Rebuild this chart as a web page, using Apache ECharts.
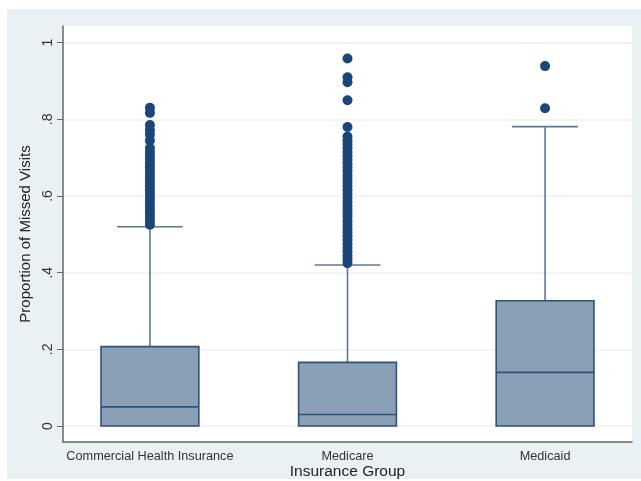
<!DOCTYPE html>
<html>
<head>
<meta charset="utf-8">
<script src="https://cdn.jsdelivr.net/npm/echarts@6/dist/echarts.min.js"></script>
<style>
  html, body { margin: 0; padding: 0; background: #fff; }
  #chart { width: 641px; height: 481px; }
</style>
</head>
<body>
<div id="chart"></div>
<script>
// groups on the x axis (positions 0, 1, 2)
const groups = ["Commercial Health Insurance", "Medicare", "Medicaid"];
const groupPos = [0, 1, 2];

// box summary per group: lower whisker, q1, median, q3, upper whisker
const lowerWhisker = [0, 0, 0];
const q1 = [0, 0, 0];
const median = [0.05, 0.03, 0.14];
const q3 = [0.207, 0.166, 0.327];
const upperWhisker = [0.52, 0.42, 0.781];

// outside values
const commercialOutliers = [
  0.525, 0.535, 0.545, 0.555, 0.565, 0.575, 0.585, 0.595, 0.605, 0.615,
  0.625, 0.635, 0.645, 0.655, 0.665, 0.675, 0.685, 0.695, 0.705, 0.715,
  0.725, 0.745, 0.76, 0.772, 0.785, 0.817, 0.83
];
const medicareOutliers = [
  0.425, 0.435, 0.445, 0.455, 0.465, 0.475, 0.485, 0.495, 0.505, 0.515,
  0.525, 0.535, 0.545, 0.555, 0.565, 0.575, 0.585, 0.595, 0.605, 0.615,
  0.625, 0.635, 0.645, 0.655, 0.665, 0.675, 0.685, 0.695, 0.705, 0.715,
  0.725, 0.735, 0.745, 0.755, 0.78, 0.85, 0.897, 0.91, 0.959
];
const medicaidOutliers = [0.829, 0.939];

const yTicks = [0, 0.2, 0.4, 0.6, 0.8, 1];
const yTickLabels = ["0", ".2", ".4", ".6", ".8", "1"];

const boxData = groupPos.map((x, i) => [x, lowerWhisker[i], q1[i], median[i], q3[i], upperWhisker[i]]);
const outlierData = []
  .concat(commercialOutliers.map((v) => [0, v]))
  .concat(medicareOutliers.map((v) => [1, v]))
  .concat(medicaidOutliers.map((v) => [2, v]));

const fontFamily = "Liberation Sans, Arial, sans-serif";

const chart = echarts.init(document.getElementById("chart"));

const renderBox = (params, api) => {
  const x = api.value(0);
  const pLow = api.coord([x, api.value(1)]);
  const pQ1 = api.coord([x, api.value(2)]);
  const pMed = api.coord([x, api.value(3)]);
  const pQ3 = api.coord([x, api.value(4)]);
  const pHigh = api.coord([x, api.value(5)]);
  const boxW = api.size([0.495, 0])[0];
  const capW = api.size([0.333, 0])[0];
  const cx = pMed[0];
  const lineStyle = { stroke: "#5b7896", lineWidth: 1.6 };
  return {
    type: "group",
    children: [
      { type: "line", shape: { x1: cx, y1: pQ3[1], x2: cx, y2: pHigh[1] }, style: lineStyle },
      { type: "line", shape: { x1: cx - capW / 2, y1: pHigh[1], x2: cx + capW / 2, y2: pHigh[1] }, style: lineStyle },
      { type: "line", shape: { x1: cx, y1: pQ1[1], x2: cx, y2: pLow[1] }, style: lineStyle },
      {
        type: "rect",
        shape: { x: cx - boxW / 2, y: pQ3[1], width: boxW, height: pQ1[1] - pQ3[1] },
        style: { fill: "#8aa0b6", stroke: "#2f5278", lineWidth: 1.6 },
      },
      { type: "line", shape: { x1: cx - boxW / 2, y1: pMed[1], x2: cx + boxW / 2, y2: pMed[1] }, style: { stroke: "#2f5278", lineWidth: 1.6 } },
    ],
  };
};

const option = {
  backgroundColor: "#ffffff",
  animation: false,
  textStyle: { fontFamily: fontFamily },
  graphic: [
    {
      type: "rect",
      z: -10,
      silent: true,
      shape: { x: 7, y: 9, width: 634, height: 470 },
      style: { fill: "#eaf1f4" },
    },
  ],
  grid: {
    left: 63,
    top: 26,
    right: 9,
    bottom: 39,
    outerBoundsMode: "none",
    show: true,
    backgroundColor: "#ffffff",
    borderWidth: 0,
  },
  xAxis: {
    type: "value",
    min: -0.44,
    max: 2.44,
    name: "Insurance Group",
    nameLocation: "middle",
    nameMoveOverlap: false,
    nameGap: 22,
    nameTextStyle: { fontSize: 15.5, color: "#222", fontFamily: fontFamily },
    axisLine: { show: true, onZero: false, lineStyle: { color: "#666", width: 1.5 } },
    axisTick: { show: false },
    splitLine: { show: false },
    axisLabel: {
      customValues: groupPos,
      formatter: (v) => groups[Math.round(v)] || "",
      fontSize: 12.7,
      color: "#333",
      margin: 8,
    },
  },
  yAxis: {
    type: "value",
    min: -0.0417,
    max: 1.0436,
    name: "Proportion of Missed Visits",
    nameLocation: "middle",
    nameRotate: 90,
    nameGap: 29,
    nameTextStyle: { fontSize: 15, color: "#222", fontFamily: fontFamily },
    axisLine: { show: true, onZero: false, lineStyle: { color: "#666", width: 1.5 } },
    axisTick: { show: true, customValues: yTicks, length: 6, lineStyle: { color: "#666" } },
    splitLine: { show: true, lineStyle: { color: "#eef0f2", width: 1.5 } },
    axisLabel: {
      customValues: yTicks,
      rotate: 90,
      formatter: (v) => {
        const i = yTicks.findIndex((t) => Math.abs(t - v) < 1e-6);
        return i >= 0 ? yTickLabels[i] : "";
      },
      fontSize: 14,
      color: "#333",
      margin: 8,
    },
  },
  series: [
    {
      type: "custom",
      name: "box",
      renderItem: renderBox,
      encode: { x: 0, y: [1, 2, 3, 4, 5] },
      data: boxData,
      z: 2,
    },
    {
      type: "scatter",
      name: "outside values",
      data: outlierData,
      symbol: "circle",
      symbolSize: 10,
      itemStyle: { color: "#1b4677", opacity: 1 },
      z: 3,
    },
  ],
};

option && chart.setOption(option);
</script>
</body>
</html>
